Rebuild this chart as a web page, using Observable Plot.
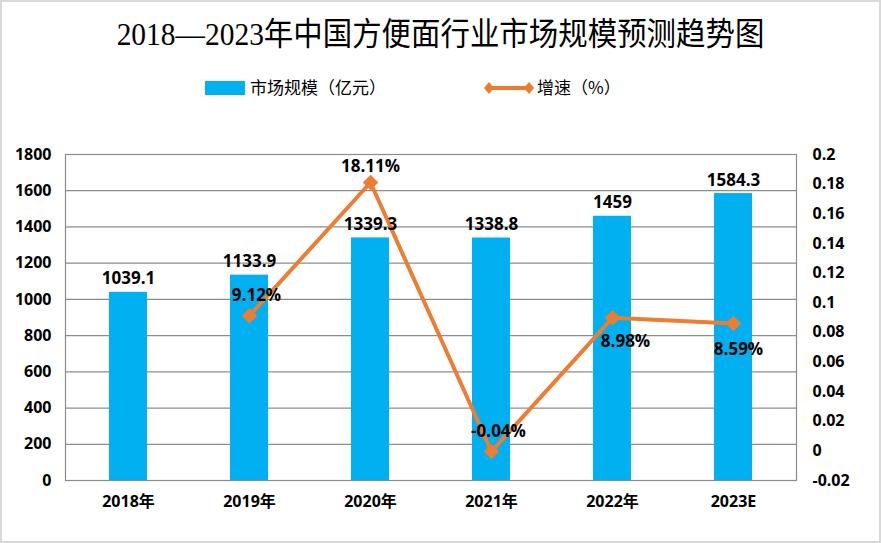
<!DOCTYPE html>
<html><head><meta charset="utf-8">
<script src="https://cdn.jsdelivr.net/npm/d3@7"></script>
<script src="https://cdn.jsdelivr.net/npm/@observablehq/plot@0.6"></script>
<style>
body{margin:0;background:#fff;}
#wrap{position:relative;width:881px;height:543px;overflow:hidden;background:#fff;font-family:"Open Sans","Noto Sans CJK SC",sans-serif;}
#border{position:absolute;left:0;top:0;width:877px;height:539px;border:2px solid #d9d9d9;pointer-events:none;}
#title{position:absolute;left:0;top:14px;width:881px;text-align:center;font-family:"Liberation Serif","Noto Sans CJK SC",serif;font-size:32px;line-height:40px;color:#000;transform:scaleX(0.92);}
#legend{position:absolute;top:78px;left:0;width:881px;height:22px;font-family:"Noto Sans CJK SC",sans-serif;font-size:17px;color:#000;}
.sw{position:absolute;}
#chart{position:absolute;left:0;top:110px;}
</style></head>
<body><div id="wrap">
<div id="title"></div>
<div id="legend"></div>
<div id="chart"></div>
<div id="border"></div>
</div>
<script>
const title = "2018—2023年中国方便面行业市场规模预测趋势图";
const legendBar = "市场规模（亿元）";
const legendLine = "增速（%）";
const years = ["2018年","2019年","2020年","2021年","2022年","2023E"];
const marketSize = [1039.1,1133.9,1339.3,1338.8,1459,1584.3];
const marketLabels = ["1039.1","1133.9","1339.3","1338.8","1459","1584.3"];
const growth = [null,0.0912,0.1811,-0.0004,0.0898,0.0859];
const growthLabels = ["","9.12%","18.11%","-0.04%","8.98%","8.59%"];
const leftTicks = [0,200,400,600,800,1000,1200,1400,1600,1800];
const rightTicks = [-0.02,0,0.02,0.04,0.06,0.08,0.1,0.12,0.14,0.16,0.18,0.2];

const BLUE = "#00B0F0", ORANGE = "#ED7D31", GRID = "#8c8c8c";
const rMin = -0.02, rMax = 0.2, lMax = 1800;
const toLeft = g => (g - rMin) / (rMax - rMin) * lMax;
const fromLeft = v => Math.round((v / lMax * (rMax - rMin) + rMin) * 100) / 100;

document.getElementById("title").textContent = title;
const lg = document.getElementById("legend");
lg.innerHTML = `
<div class="sw" style="left:205px;top:3px;width:40px;height:14px;background:${BLUE}"></div>
<div class="sw" style="left:250px;top:-4px;white-space:nowrap">${legendBar}</div>
<svg class="sw" style="left:484px;top:0px" width="50" height="20"><line x1="5" y1="10" x2="45" y2="10" stroke="${ORANGE}" stroke-width="4"/><path d="M5 4 L10 10 L5 16 L0 10Z" fill="${ORANGE}"/><path d="M45 4 L50 10 L45 16 L40 10Z" fill="${ORANGE}"/></svg>
<div class="sw" style="left:537px;top:-4px;white-space:nowrap">${legendLine}</div>`;

const rows = years.map((y,i)=>({year:y, size:marketSize[i], sizeLabel:marketLabels[i], g:growth[i], gl:growthLabels[i], gy: growth[i]==null?null:toLeft(growth[i])}));
const gRows = rows.filter(d=>d.g!=null);
const labelFont = {fontSize:17, fontWeight:700, fill:"#000", fontFamily:"Open Sans, sans-serif"};
const pick = ys => gRows.filter(d=>ys.includes(d.year));

const plot = Plot.plot({
  width: 881, height: 433,
  marginLeft: 65, marginRight: 85, marginTop: 44, marginBottom: 63,
  style: {fontFamily:"Open Sans, Noto Sans CJK SC, sans-serif", background:"transparent"},
  x: {domain: years, paddingInner: 0.69, paddingOuter: 0.345, label: null},
  y: {domain: [0, lMax], label: null},
  marks: [
    Plot.gridY(leftTicks, {stroke: GRID, strokeOpacity: 1, strokeWidth: 1.2}),
    Plot.frame({stroke: GRID, strokeWidth: 1.2}),
    Plot.barY(rows, {x: "year", y: "size", fill: BLUE}),
    Plot.axisY({ticks: leftTicks, tickFormat: d => String(d), tickSize: 0, tickPadding: 14, fontSize: 16, fontWeight: 700, label: null}),
    Plot.axisY({anchor: "right", ticks: rightTicks.map(toLeft), tickFormat: d => String(fromLeft(d)), tickSize: 0, tickPadding: 16, textAnchor: "start", fontSize: 16, fontWeight: 700, label: null}),
    Plot.axisX({tickSize: 0, tickPadding: 15, fontSize: 16, fontWeight: 700, label: null, fontFamily: "Open Sans, Noto Sans CJK SC, sans-serif"}),
    Plot.line(gRows, {x: "year", y: "gy", stroke: ORANGE, strokeWidth: 4}),
    Plot.dot(gRows, {x: "year", y: "gy", symbol: "diamond2", r: 6, fill: ORANGE, stroke: ORANGE}),
    Plot.text(rows, {x: "year", y: "size", text: "sizeLabel", lineAnchor: "bottom", dy: -8, ...labelFont}),
    Plot.text(pick(["2019年","2021年"]), {x: "year", y: "gy", text: "gl", dx: 7, dy: -20, ...labelFont}),
    Plot.text(pick(["2020年"]), {x: "year", y: "gy", text: "gl", dy: -16, ...labelFont}),
    Plot.text(pick(["2022年"]), {x: "year", y: "gy", text: "gl", dx: 13, dy: 24, ...labelFont}),
    Plot.text(pick(["2023E"]), {x: "year", y: "gy", text: "gl", dx: 5, dy: 26, ...labelFont})
  ]
});
document.getElementById("chart").appendChild(plot);
</script>
</body></html>
